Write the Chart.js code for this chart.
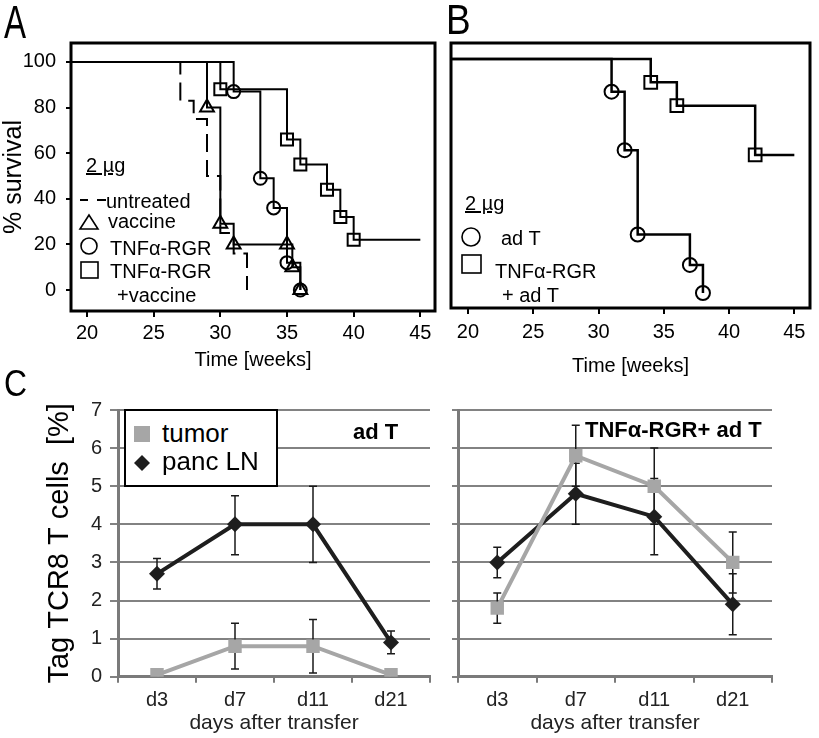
<!DOCTYPE html>
<html>
<head>
<meta charset="utf-8">
<script src="https://cdn.jsdelivr.net/npm/chart.js@4.4.1/dist/chart.umd.min.js"></script>
<style>
  body { margin: 0; width: 819px; height: 738px; position: relative; overflow: hidden; background: #fff;
         font-family: "Liberation Sans", Arial, sans-serif; color: #000; }
  canvas { position: absolute; }
  .t { position: absolute; white-space: nowrap; line-height: 1; }
  .letter { transform-origin: 0 0; }
  svg { position: absolute; overflow: visible; }
</style>
</head>
<body>
<canvas id="chA" width="445" height="370" style="left:0;top:0"></canvas>
<canvas id="chB" width="377" height="380" style="left:442px;top:0"></canvas>
<canvas id="chC1" width="440" height="368" style="left:0;top:370px"></canvas>
<canvas id="chC2" width="379" height="368" style="left:440px;top:370px"></canvas>

<!-- panel letters -->
<div class="t letter" style="left:4px;top:-1px;font-size:46px;transform:scaleX(.72)">A</div>
<div class="t letter" style="left:446px;top:-1px;font-size:42px;transform:scaleX(.88)">B</div>
<div class="t letter" style="left:4px;top:365px;font-size:37px;transform:scaleX(.86)">C</div>

<!-- legend A -->
<div class="t" style="left:86px;top:155px;font-size:20px;text-decoration:underline">2 µg</div>
<svg style="left:0;top:0" width="1" height="1">
  <line x1="80" y1="200" x2="88" y2="200" stroke="#000" stroke-width="2"/>
  <line x1="97" y1="200" x2="106" y2="200" stroke="#000" stroke-width="2"/>
  <polygon points="89,215 80,229 98,229" fill="none" stroke="#000" stroke-width="1.6"/>
  <circle cx="89" cy="246" r="8" fill="none" stroke="#000" stroke-width="1.6"/>
  <rect x="81" y="262" width="17" height="16" fill="none" stroke="#000" stroke-width="1.6"/>
</svg>
<div class="t" style="left:106px;top:191px;font-size:20px">untreated</div>
<div class="t" style="left:108px;top:211px;font-size:20px">vaccine</div>
<div class="t" style="left:110px;top:238px;font-size:20px">TNFα-RGR</div>
<div class="t" style="left:110px;top:261px;font-size:20px">TNFα-RGR</div>
<div class="t" style="left:117px;top:285px;font-size:20px">+vaccine</div>

<!-- legend B -->
<div class="t" style="left:465px;top:193px;font-size:20px;text-decoration:underline">2 µg</div>
<svg style="left:0;top:0" width="1" height="1">
  <circle cx="471" cy="237" r="9" fill="none" stroke="#000" stroke-width="1.6"/>
  <rect x="462" y="255" width="19" height="18" fill="none" stroke="#000" stroke-width="1.6"/>
</svg>
<div class="t" style="left:501px;top:228px;font-size:20px">ad T</div>
<div class="t" style="left:495px;top:261px;font-size:20px">TNFα-RGR</div>
<div class="t" style="left:502px;top:285px;font-size:20px">+ ad T</div>

<!-- legend C -->
<div style="position:absolute;left:124px;top:409px;width:150px;height:74px;border:2px solid #000;background:#fff"></div>
<svg style="left:0;top:0" width="1" height="1">
  <rect x="134" y="426" width="16" height="16" fill="#a6a6a6"/>
  <polygon points="142,455 150,463 142,471 134,463" fill="#1e1e1e"/>
</svg>
<div class="t" style="left:162px;top:420px;font-size:26px">tumor</div>
<div class="t" style="left:162px;top:448px;font-size:26px">panc LN</div>
<div class="t" style="left:353px;top:421px;font-size:22px;font-weight:bold">ad T</div>
<div class="t" style="left:585px;top:419px;font-size:22px;font-weight:bold">TNFα-RGR+ ad T</div>

<script>
// ── panel A: survival (% alive vs weeks) ──
const untreatedX = [18.8, 27, 28, 29, 30, 31, 32];
const untreatedY = [100, 83, 75, 50, 25, 16, 0];
const vaccineX = [18.8, 29, 30, 31, 35, 35.4, 36];
const vaccineY = [100, 80, 29, 20, 20, 10, 0];
const vaccineMarked = [false, true, true, true, true, true, true];
const rgrX = [18.8, 31, 33, 34, 35, 36];
const rgrY = [100, 87, 49, 36, 12, 0];
const rgrMarked = [false, true, true, true, true, true];
const rgrVacX = [18.8, 30, 35, 36, 38, 39, 40, 45];
const rgrVacY = [100, 88, 66, 55, 44, 32, 22, 22];
const rgrVacMarked = [false, true, true, true, true, true, true, false];

// ── panel B ──
const adTX = [18.7, 31, 32, 33, 37, 38];
const adTY = [100, 86, 61, 25, 12, 0];
const adTMarked = [false, true, true, true, true, true];
const rgrAdTX = [18.7, 34, 36, 42, 45];
const rgrAdTY = [100, 90, 80, 59, 59];
const rgrAdTMarked = [false, true, true, true, false];

const weekTicks = [20, 25, 30, 35, 40, 45];
const survTicks = [0, 20, 40, 60, 80, 100];

// ── panel C: Tag TCR8 T cells [%] ──
const days = ['d3', 'd7', 'd11', 'd21'];
const tumorAdT = [0.05, 0.8, 0.8, 0.05];
const tumorAdTLo = [null, 0.2, 0.1, null];
const tumorAdTHi = [null, 1.4, 1.5, null];
const lnAdT = [2.7, 4.0, 4.0, 0.9];
const lnAdTLo = [2.3, 3.2, 3.0, 0.6];
const lnAdTHi = [3.1, 4.75, 5.0, 1.2];
const tumorRgr = [1.8, 5.8, 5.0, 3.0];
const tumorRgrLo = [1.4, 5.0, 4.0, 2.2];
const tumorRgrHi = [2.2, 6.6, 6.0, 3.8];
const lnRgr = [3.0, 4.8, 4.2, 1.9];
const lnRgrLo = [2.6, 4.0, 3.2, 1.1];
const lnRgrHi = [3.4, 5.6, 5.2, 2.7];

Chart.defaults.font.family = "'Liberation Sans', Arial, sans-serif";
Chart.defaults.color = '#000';

const pts = (xs, ys) => xs.map((x, i) => ({ x, y: ys[i] }));

// box round the plot area of the survival panels
const frame = {
  id: 'frame',
  afterDraw(chart) {
    const { ctx, chartArea: a } = chart;
    ctx.save(); ctx.strokeStyle = '#000'; ctx.lineWidth = 3;
    ctx.strokeRect(a.left, a.top, a.right - a.left, a.bottom - a.top);
    ctx.restore();
  }
};

// vertical error bars with caps, read from dataset.errLo / errHi
const errorBars = {
  id: 'errorBars',
  beforeDatasetsDraw(chart) {
    const { ctx, scales: { x, y } } = chart;
    ctx.save(); ctx.strokeStyle = '#1a1a1a'; ctx.lineWidth = 1.5;
    chart.data.datasets.forEach(ds => {
      ds.errLo.forEach((lo, i) => {
        const hi = ds.errHi[i];
        if (lo == null || hi == null) return;
        const px = x.getPixelForValue(i), y1 = y.getPixelForValue(lo), y2 = y.getPixelForValue(hi);
        ctx.beginPath();
        ctx.moveTo(px, y1); ctx.lineTo(px, y2);
        ctx.moveTo(px - 4, y1); ctx.lineTo(px + 4, y1);
        ctx.moveTo(px - 4, y2); ctx.lineTo(px + 4, y2);
        ctx.stroke();
      });
    });
    ctx.restore();
  }
};

function survSet(xs, ys, marked, style, r, extra) {
  return Object.assign({
    data: pts(xs, ys), stepped: 'before', borderColor: '#000', borderWidth: 2,
    pointStyle: style, pointRadius: marked.map(m => m ? r : 0),
    pointBorderColor: '#000', pointBorderWidth: 2, pointBackgroundColor: 'rgba(0,0,0,0)'
  }, extra || {});
}

function survOpts(o) {
  return {
    responsive: false, animation: false,
    layout: { padding: o.pad },
    plugins: { legend: { display: false }, tooltip: { enabled: false } },
    scales: {
      x: {
        type: 'linear', min: o.xmin, max: o.xmax,
        afterBuildTicks: s => { s.ticks = weekTicks.map(v => ({ value: v })); },
        afterFit: s => { s.height = o.xh; },
        border: { display: false },
        grid: { drawOnChartArea: false, tickLength: 6, color: '#000', lineWidth: 2 },
        ticks: { font: { size: 20 }, padding: o.tickPad, maxRotation: 0 },
        title: { display: true, text: 'Time [weeks]', font: { size: 20, lineHeight: 1 }, padding: { top: 0, bottom: o.titlePad } }
      },
      y: o.y
    }
  };
}

new Chart(document.getElementById('chA'), {
  type: 'line',
  data: { datasets: [
    survSet(untreatedX, untreatedY, untreatedX.map(() => false), 'circle', 0, { borderDash: [18, 8] }),
    survSet(vaccineX, vaccineY, vaccineMarked, 'triangle', 8),
    survSet(rgrX, rgrY, rgrMarked, 'circle', 6.5),
    survSet(rgrVacX, rgrVacY, rgrVacMarked, 'rect', 8.5)
  ] },
  options: survOpts({
    pad: { left: 0, top: 43, right: 2, bottom: 0 }, xmin: 18.8, xmax: 46.1, xh: 59, tickPad: 4, titlePad: 0,
    y: {
      min: -9.2, max: 108.3,
      afterBuildTicks: s => { s.ticks = survTicks.map(v => ({ value: v })); },
      afterFit: s => { s.width = 71; },
      border: { display: false },
      grid: { drawOnChartArea: false, tickLength: 5, color: '#000', lineWidth: 2 },
      ticks: { font: { size: 20 }, padding: 10 },
      title: { display: true, text: '% survival', font: { size: 25, lineHeight: 1 }, padding: { top: 2 } }
    }
  }),
  plugins: [frame]
});

new Chart(document.getElementById('chB'), {
  type: 'line',
  data: { datasets: [
    survSet(adTX, adTY, adTMarked, 'circle', 7, { borderWidth: 2.5 }),
    survSet(rgrAdTX, rgrAdTY, rgrAdTMarked, 'rect', 9, { borderWidth: 2.5 })
  ] },
  options: survOpts({
    pad: { left: 1, top: 43, right: 2, bottom: 0 }, xmin: 18.7, xmax: 46.2, xh: 72, tickPad: 6, titlePad: 4,
    y: { display: false, min: -6.4, max: 106.8 }
  }),
  plugins: [frame]
});

function cOpts(o) {
  return {
    responsive: false, animation: false,
    layout: { padding: o.pad },
    plugins: { legend: { display: false }, tooltip: { enabled: false } },
    scales: {
      x: {
        offset: true,
        afterFit: s => { s.height = 61.3; },
        border: { color: '#7a7a7a', width: 3 },
        grid: { offset: true, drawOnChartArea: false, tickLength: 6, color: '#7a7a7a', lineWidth: 2 },
        ticks: { font: { size: 20 }, color: '#222', padding: 6 },
        title: { display: true, text: 'days after transfer', font: { size: 21, lineHeight: 1 }, color: '#222', padding: { top: 0, bottom: 4 } }
      },
      y: {
        min: 0, max: 7,
        ticks: { stepSize: 1, font: { size: 20 }, color: '#222', padding: 8, display: o.yLabels },
        afterFit: s => { s.width = o.yw; },
        border: { color: '#7a7a7a', width: 3 },
        grid: { color: '#828282', lineWidth: 2, tickLength: o.tickLen },
        title: o.yTitle
      }
    }
  };
}

function cSets(tumor, tLo, tHi, ln, lLo, lHi) {
  return [
    { label: 'tumor', data: tumor, errLo: tLo, errHi: tHi, borderColor: '#a6a6a6', borderWidth: 4,
      pointStyle: 'rect', pointRadius: 9.5, pointBackgroundColor: '#a6a6a6', pointBorderWidth: 0 },
    { label: 'panc LN', data: ln, errLo: lLo, errHi: lHi, borderColor: '#1e1e1e', borderWidth: 4,
      pointStyle: 'rectRot', pointRadius: 8, pointBackgroundColor: '#1e1e1e', pointBorderWidth: 0 }
  ];
}

new Chart(document.getElementById('chC1'), {
  type: 'line',
  data: { labels: days, datasets: cSets(tumorAdT, tumorAdTLo, tumorAdTHi, lnAdT, lnAdTLo, lnAdTHi) },
  options: cOpts({
    pad: { left: 0, top: 40, right: 10, bottom: 0 }, yw: 118, yLabels: true, tickLen: 8,
    yTitle: { display: true, text: 'Tag TCR8 T cells  [%]', font: { size: 29, lineHeight: 1 }, padding: { top: 45 } }
  }),
  plugins: [errorBars]
});

new Chart(document.getElementById('chC2'), {
  type: 'line',
  data: { labels: days, datasets: cSets(tumorRgr, tumorRgrLo, tumorRgrHi, lnRgr, lnRgrLo, lnRgrHi) },
  options: cOpts({
    pad: { left: 0, top: 40, right: 47, bottom: 0 }, yw: 18, yLabels: false, tickLen: 6,
    yTitle: { display: false }
  }),
  plugins: [errorBars]
});
</script>
</body>
</html>
